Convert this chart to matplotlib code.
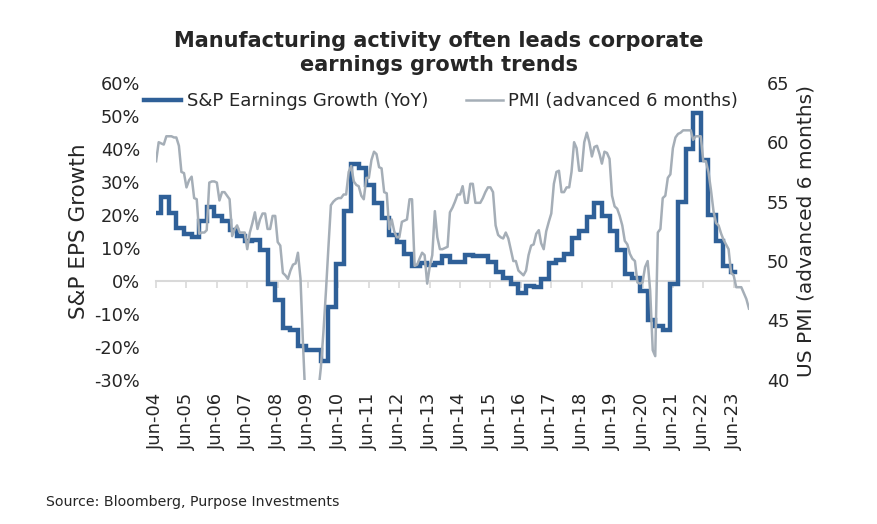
import pandas as pd
import matplotlib
matplotlib.use("Agg")
import matplotlib.pyplot as plt

plt.rcParams['font.family'] = ['DejaVu Sans']

# S&P 500 EPS growth, YoY %, quarterly steps (first value before Jun-04, last repeated to end of line)
eps = [20.5, 25.5, 20.5, 16.0, 14.2, 13.3, 18.0, 22.5, 19.5, 18.2, 15.5, 13.5,
       12.0, 12.5, 9.5, -0.8, -5.8, -14.4, -15.0, -19.8, -20.8, -21.0, -24.2, -8.0,
       5.0, 21.2, 35.5, 34.3, 29.0, 23.6, 19.0, 13.8, 11.8, 8.0, 4.4, 5.4,
       4.8, 5.4, 7.4, 5.8, 5.8, 7.9, 7.6, 7.4, 5.8, 2.8, 1.0, -1.0,
       -3.7, -1.5, -2.0, 0.5, 5.3, 6.2, 8.0, 12.9, 15.0, 19.2, 23.5, 19.5,
       15.0, 9.5, 2.2, 0.8, -3.0, -11.8, -13.8, -14.8, -1.0, 24.0, 40.0, 50.8,
       36.5, 20.0, 12.0, 4.5, 2.7, 2.7]
eps_dates = list(pd.date_range('2004-05-31', periods=len(eps) - 1, freq='3ME')) + [pd.Timestamp('2023-07-15')]

# ISM PMI advanced 6 months, monthly from Jun-04
pmi = [58.4, 60.0, 59.9, 59.8, 60.5, 60.5, 60.5, 60.4, 60.4, 59.7, 57.5, 57.4,
       56.2, 56.8, 57.1, 55.3, 55.2, 52.3, 52.4, 52.4, 52.6, 56.6, 56.7, 56.7,
       56.6, 55.1, 55.8, 55.8, 55.5, 55.2, 52.1, 52.7, 53.0, 52.4, 52.4, 52.4,
       51.0, 52.4, 53.2, 54.1, 52.7, 53.5, 54.0, 54.0, 52.7, 52.7, 53.8, 53.8,
       51.6, 51.3, 49.0, 48.8, 48.5, 49.2, 49.7, 49.8, 50.7, 48.5, 43.0, 38.0,
       35.0, 33.5, 34.0, 36.0, 39.0, 41.0, 44.0, 47.5, 51.0, 54.7, 55.0, 55.2,
       55.3, 55.3, 55.6, 55.6, 57.5, 58.0, 56.7, 56.4, 56.3, 55.5, 55.2, 57.0,
       57.0, 58.5, 59.2, 59.0, 57.9, 57.8, 55.8, 55.7, 52.7, 53.5, 52.5, 52.0,
       52.0, 53.3, 53.4, 53.5, 55.2, 55.2, 49.6, 49.7, 50.2, 50.7, 50.5, 48.1,
       49.5, 50.5, 54.2, 52.0, 51.0, 51.0, 51.1, 51.2, 54.1, 54.5, 55.0, 55.6,
       55.6, 56.3, 54.9, 54.9, 56.5, 56.5, 54.9, 54.9, 54.9, 55.3, 55.8, 56.2,
       56.2, 55.8, 53.0, 52.2, 52.0, 51.9, 52.4, 51.9, 51.0, 50.0, 50.0, 49.2,
       49.0, 48.8, 49.2, 50.5, 51.3, 51.4, 52.3, 52.6, 51.5, 51.0, 52.5, 53.3,
       54.0, 56.5, 57.5, 57.6, 55.8, 55.8, 56.2, 56.2, 57.5, 60.0, 59.5, 57.6,
       57.6, 60.0, 60.8, 60.0, 58.8, 59.6, 59.7, 59.0, 58.2, 59.2, 59.1, 58.6,
       55.5, 54.6, 54.4, 53.8, 53.0, 51.7, 51.4, 50.6, 50.2, 50.0, 48.2, 48.1,
       48.2, 49.5, 50.0, 47.5, 42.5, 42.0, 52.4, 52.7, 55.3, 55.5, 57.0, 57.3,
       59.5, 60.4, 60.7, 60.8, 61.0, 61.0, 61.0, 61.0, 60.2, 60.5, 60.5, 60.5,
       58.4, 58.4, 57.5, 56.0, 54.2, 53.2, 53.0, 52.3, 51.8, 51.4, 51.0, 49.0,
       48.8, 47.8, 47.8, 47.8, 47.3, 46.8, 46.0]
pmi_dates = pd.date_range('2004-06-30', periods=len(pmi), freq='ME')

years = list(range(2004, 2024))
tick_dates = [pd.Timestamp(f'{y}-06-30') for y in years]
tick_labels = [f'Jun-{y % 100:02d}' for y in years]

blue = '#2F6098'
grey = '#A5AEB7'
txt = '#262626'

fig = plt.figure(figsize=(8.77, 5.24), dpi=100)
ax = fig.add_axes([0.178, 0.275, 0.676, 0.567])
ax2 = ax.twinx()

l1, = ax.plot(eps_dates, eps, color=blue, lw=3.2, drawstyle='steps-post',
              solid_joinstyle='miter', label='S&P Earnings Growth (YoY)')
l2, = ax2.plot(pmi_dates, pmi, color=grey, lw=1.8, label='PMI (advanced 6 months)')

ax.set_xlim(pd.Timestamp('2004-06-30'), pd.Timestamp('2023-12-31'))
ax.set_ylim(-30, 60)
ax.set_yticks(range(-30, 61, 10))
ax.set_yticklabels([f'{v}%' for v in range(-30, 61, 10)])
ax2.set_ylim(40, 65)
ax2.set_yticks(range(40, 66, 5))

for a in (ax, ax2):
    for s in a.spines.values():
        s.set_visible(False)
    a.tick_params(axis='y', length=0, labelsize=12.8, colors=txt)
ax.tick_params(axis='y', pad=11.5)
ax2.tick_params(axis='y', pad=13)

ax.set_xticks(tick_dates)
ax.set_xticklabels(tick_labels, rotation=90)
ax.tick_params(axis='x', length=0, labelsize=13, colors=txt, pad=9)

# zero line with year ticks
sec = ax.secondary_xaxis(1 / 3)
sec.set_xticks(tick_dates)
sec.set_xticklabels([])
sec.spines['bottom'].set_color('#D9D9D9')
sec.spines['bottom'].set_linewidth(1.5)
sec.tick_params(axis='x', direction='out', length=5, width=1.2, color='#D9D9D9')

ax.set_ylabel('S&P EPS Growth', fontsize=15.5, color=txt, labelpad=4)
ax2.set_ylabel('US PMI (advanced 6 months)', fontsize=14.5, color=txt, rotation=90, labelpad=5)

fig.legend(handles=[l1, l2], loc='center', bbox_to_anchor=(0.503, 0.807), ncol=2,
           frameon=False, fontsize=13, handlelength=2.05, handletextpad=0.3,
           columnspacing=2.1, labelcolor=txt)

fig.text(0.5, 0.899, 'Manufacturing activity often leads corporate\nearnings growth trends',
         ha='center', va='center', fontsize=15, fontweight='bold', color=txt, linespacing=1.3)
fig.text(0.053, 0.035, 'Source: Bloomberg, Purpose Investments', fontsize=10.2, color=txt)

fig.savefig('out.png', dpi=100)
